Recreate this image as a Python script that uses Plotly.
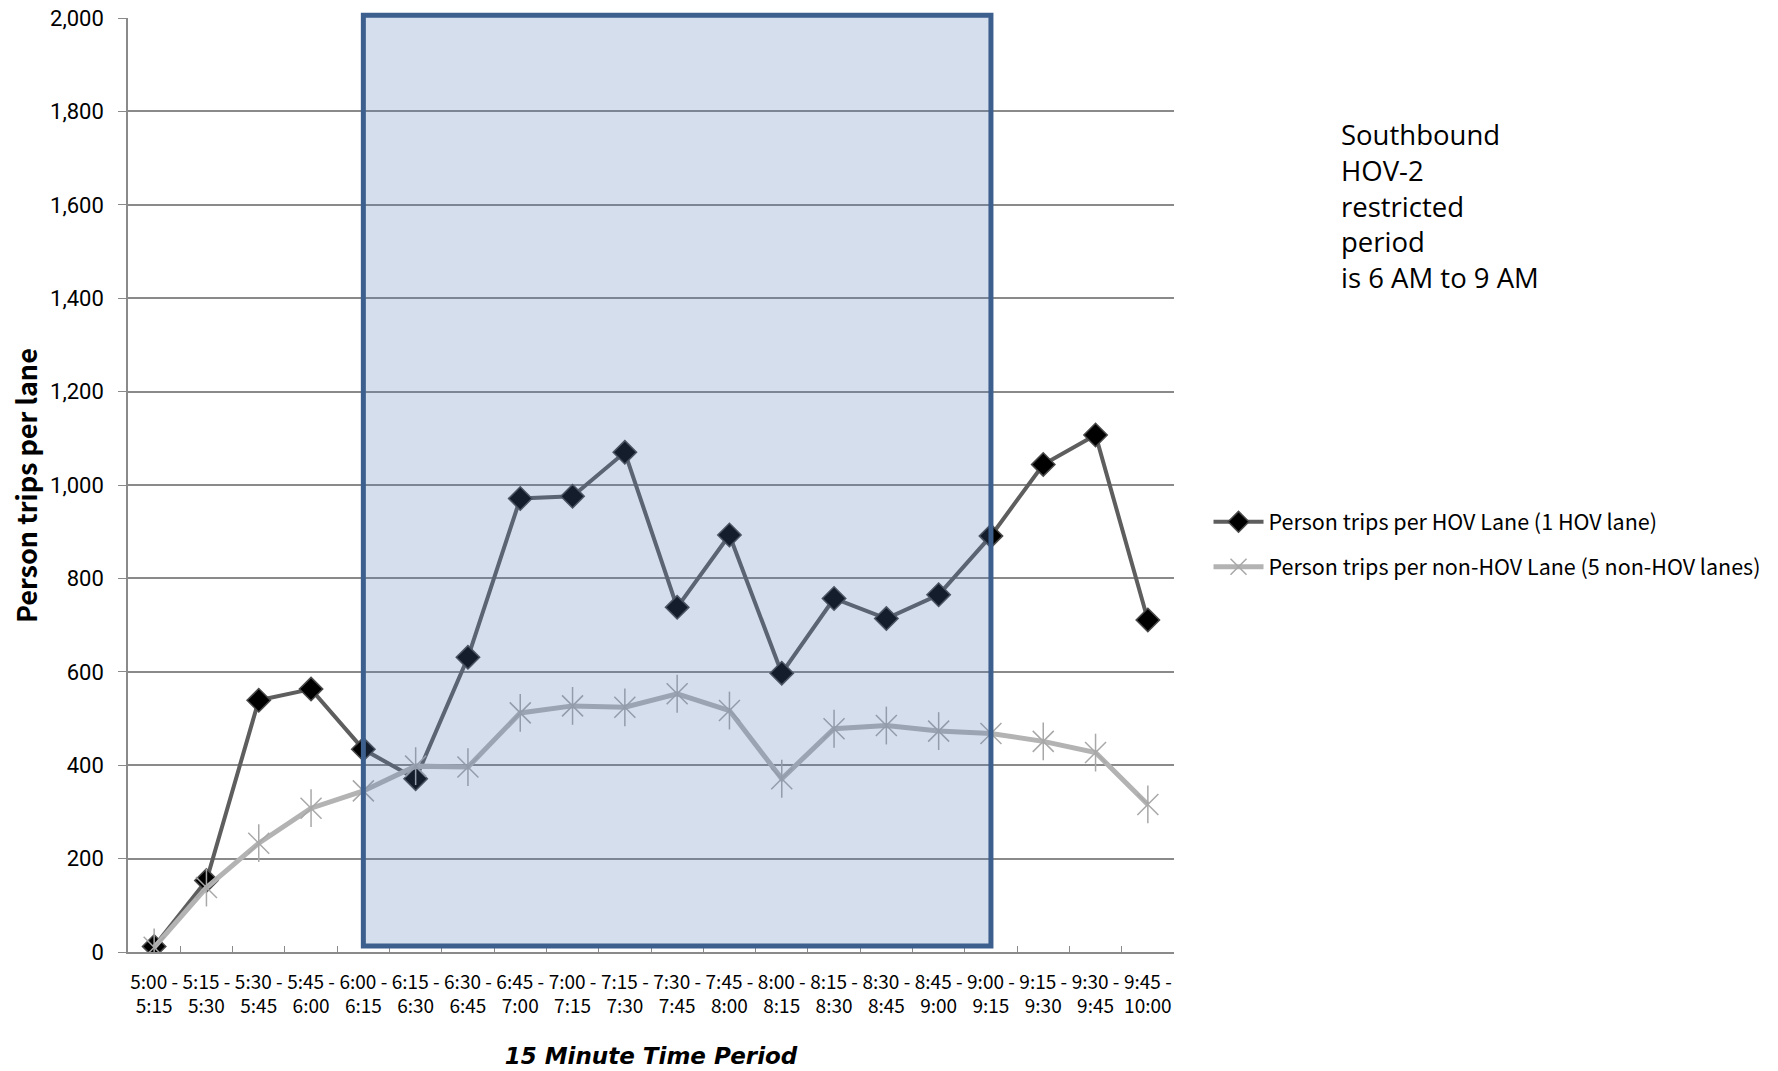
import plotly.graph_objects as go

# 15-minute periods, morning peak
periods = ["5:00 -<br>5:15", "5:15 -<br>5:30", "5:30 -<br>5:45", "5:45 -<br>6:00",
           "6:00 -<br>6:15", "6:15 -<br>6:30", "6:30 -<br>6:45", "6:45 -<br>7:00",
           "7:00 -<br>7:15", "7:15 -<br>7:30", "7:30 -<br>7:45", "7:45 -<br>8:00",
           "8:00 -<br>8:15", "8:15 -<br>8:30", "8:30 -<br>8:45", "8:45 -<br>9:00",
           "9:00 -<br>9:15", "9:15 -<br>9:30", "9:30 -<br>9:45", "9:45 -<br>10:00"]

hov_trips = [12, 153, 539, 563, 434, 371, 631, 971, 976, 1070,
             738, 893, 597, 757, 714, 765, 891, 1044, 1107, 711]

non_hov_trips = [10, 138, 233, 308, 345, 398, 396, 512, 527, 524,
                 553, 517, 371, 478, 485, 473, 468, 451, 427, 316]

y_ticks = [0, 200, 400, 600, 800, 1000, 1200, 1400, 1600, 1800, 2000]

# restricted period: 6:00 to 9:00 (category positions)
restricted_start = 4
restricted_end = 16

narrow = "Noto Sans CJK JP, Roboto, sans-serif"
grid = "#8a8a8a"

fig = go.Figure()

fig.add_trace(go.Scatter(
    x=periods, y=hov_trips, mode="lines+markers",
    name="Person trips per HOV Lane (1 HOV lane)",
    legendgroup="hov",
    line=dict(color="#5e5e5e", width=4),
    marker=dict(symbol="diamond", size=18, color="#000000",
                line=dict(color="#4a4a4a", width=1.5)),
))

fig.add_trace(go.Scatter(
    x=periods, y=non_hov_trips, mode="lines+markers",
    name="Person trips per non-HOV Lane (5 non-HOV lanes)",
    legendgroup="nonhov",
    line=dict(color="#b3b3b3", width=5),
    marker=dict(symbol="x-thin-open", size=21, color="#a8a8a8",
                line=dict(color="#a8a8a8", width=1.5)),
))
fig.add_trace(go.Scatter(
    x=periods, y=non_hov_trips, mode="markers",
    legendgroup="nonhov", showlegend=False, hoverinfo="skip",
    marker=dict(symbol="line-ns-open", size=27, color="#a8a8a8",
                line=dict(color="#a8a8a8", width=1.5)),
))

# shaded restricted-period box, drawn over the lines
fig.add_shape(
    type="rect", xref="x", yref="paper",
    x0=restricted_start, x1=restricted_end, y0=0.0064, y1=1.003,
    fillcolor="rgba(78,119,180,0.245)",
    line=dict(color="#3d5f8e", width=5),
    layer="above",
)

fig.add_annotation(
    xref="paper", yref="paper", x=1.158, y=0.897,
    xanchor="left", yanchor="top", align="left", showarrow=False,
    text="Southbound<br>HOV-2<br>restricted<br>period<br>is 6 AM to 9 AM",
    font=dict(family="Open Sans, Noto Sans, sans-serif", size=27.5, color="#000000"),
)

# y-axis title
fig.add_annotation(
    xref="paper", yref="paper", x=-0.0985, y=0.5,
    xanchor="center", yanchor="middle", textangle=-90, showarrow=False,
    text="<b>Person trips per lane</b>",
    font=dict(family=narrow, size=27, color="#000000"),
)

fig.update_layout(
    width=1778, height=1071,
    margin=dict(l=128, r=604, t=18, b=119, autoexpand=False),
    paper_bgcolor="white", plot_bgcolor="white",
    showlegend=True,
    legend=dict(
        x=1.033, y=0.4825, xanchor="left", yanchor="top",
        font=dict(family=narrow, size=21.5, color="#000000"),
        traceorder="grouped", tracegroupgap=14,
        bgcolor="rgba(0,0,0,0)", itemwidth=50,
    ),
)

fig.update_xaxes(
    type="category", range=[-0.5, 19.5], automargin=False,
    tickson="boundaries", ticks="inside", ticklen=6, tickcolor=grid,
    showgrid=False, showline=True, linecolor=grid, linewidth=1.5,
    tickangle=0, ticklabelstandoff=12,
    tickfont=dict(family=narrow, size=19, color="#000000"),
    title=dict(text="<b><i>15 Minute Time Period</i></b>", standoff=31,
               font=dict(family="DejaVu Sans, sans-serif", size=23, color="#000000")),
    zeroline=False,
)

fig.update_yaxes(
    range=[0, 2000], tickvals=y_ticks, tickformat=",d", automargin=False,
    ticks="outside", ticklen=8, tickcolor=grid, ticklabeloverflow="allow",
    showgrid=True, gridcolor=grid, gridwidth=1.5,
    showline=True, linecolor=grid, linewidth=1.5,
    zeroline=False, ticklabelstandoff=10,
    tickfont=dict(family="Roboto, sans-serif", size=22, color="#000000"),
)

fig.write_html("out.html")
